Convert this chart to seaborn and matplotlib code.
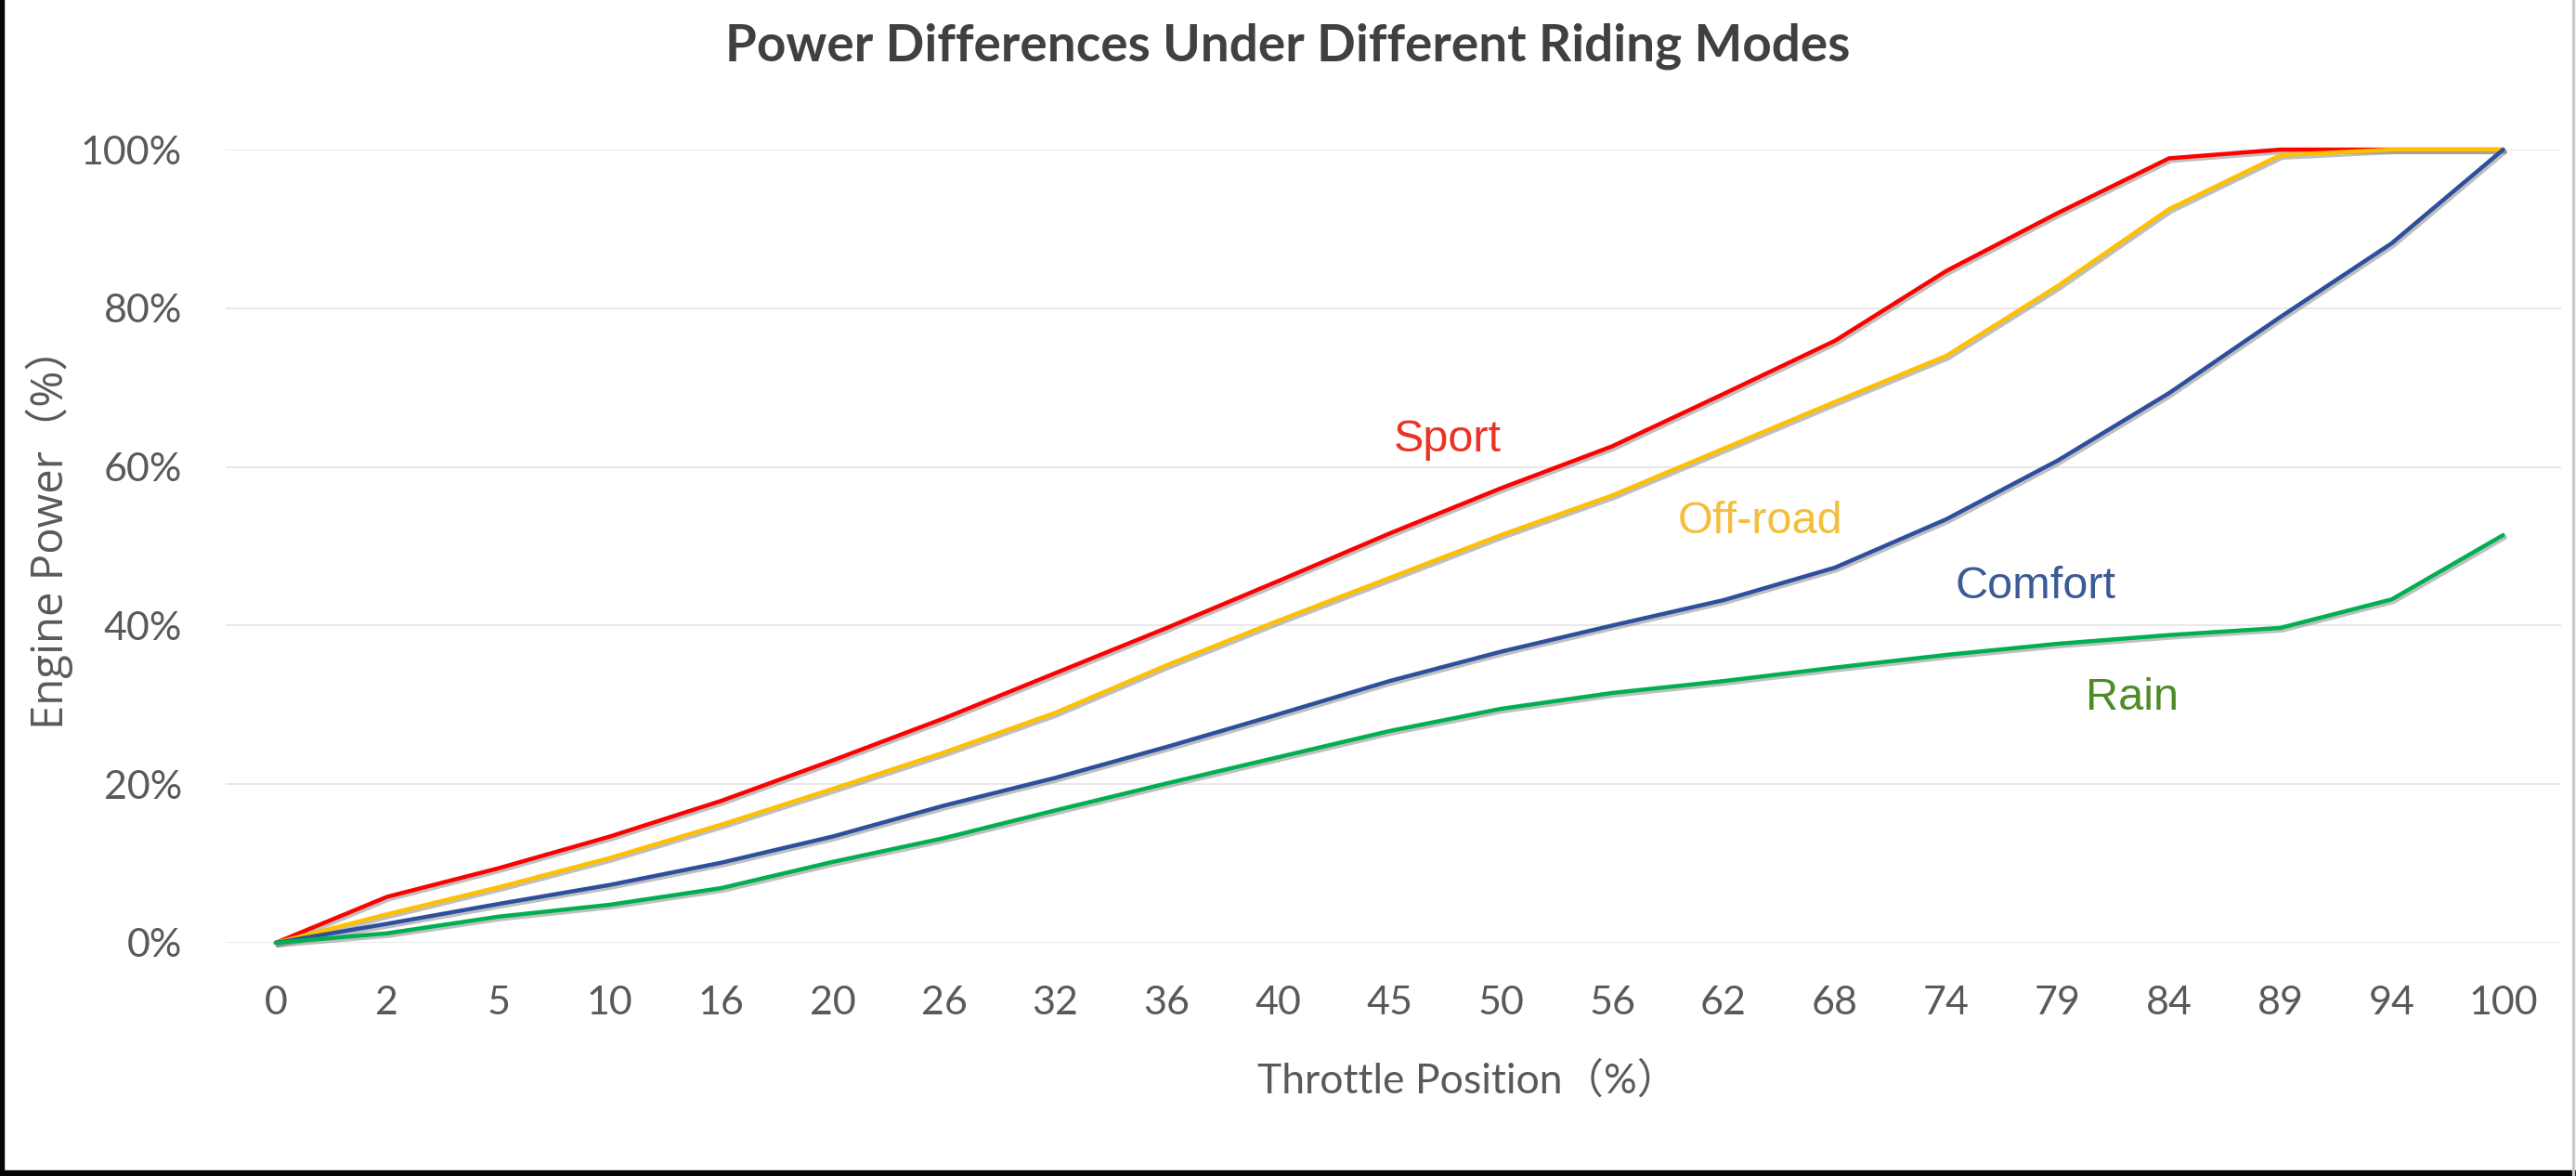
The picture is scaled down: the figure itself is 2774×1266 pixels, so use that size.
import numpy as np
import pandas as pd
import matplotlib
matplotlib.use("Agg")
import matplotlib.pyplot as plt
import matplotlib.patheffects as pe
from matplotlib.patches import Rectangle
from matplotlib.ticker import PercentFormatter
import seaborn as sns

# ---- data ----
THROTTLE = ["0", "2", "5", "10", "16", "20", "26", "32", "36", "40", "45",
            "50", "56", "62", "68", "74", "79", "84", "89", "94", "100"]
SPORT = [0, 5.8, 9.4, 13.4, 17.9, 23.0, 28.3, 34.0, 39.7, 45.6, 51.6,
         57.3, 62.6, 69.2, 75.9, 84.7, 92.0, 98.9, 100, 100, 100]
OFF_ROAD = [0, 3.6, 7.0, 10.7, 14.9, 19.4, 24.0, 29.0, 35.0, 40.6, 46.0,
            51.4, 56.4, 62.3, 68.2, 74.0, 82.8, 92.5, 99.3, 100, 100]
COMFORT = [0, 2.4, 4.9, 7.3, 10.1, 13.4, 17.3, 20.8, 24.7, 28.8, 33.0,
           36.7, 40.0, 43.2, 47.3, 53.4, 60.8, 69.3, 78.9, 88.2, 100]
RAIN = [0, 1.2, 3.3, 4.8, 6.9, 10.2, 13.2, 16.7, 20.1, 23.4, 26.7,
        29.5, 31.5, 33.0, 34.7, 36.3, 37.7, 38.8, 39.7, 43.3, 51.4]
MODES = ["Sport", "Off-road", "Comfort", "Rain"]

LINE_COLORS = {"Sport": "#FF0000", "Off-road": "#FFC000",
               "Comfort": "#2E4F9E", "Rain": "#00B050"}
LABEL_COLORS = {"Sport": "#EE3124", "Off-road": "#F4BE3A",
                "Comfort": "#3B5A96", "Rain": "#4E8B25"}

frame = pd.DataFrame({
    "Throttle": THROTTLE * 4,
    "Power": SPORT + OFF_ROAD + COMFORT + RAIN,
    "Mode": np.repeat(MODES, len(THROTTLE)),
})

sns.set_theme(style="white")
plt.rcParams["font.family"] = ["Lato", "Noto Sans CJK SC", "DejaVu Sans"]

fig = plt.figure(figsize=(27.74, 12.66), dpi=100)
ax = fig.add_axes([0.0876, 0.1983, 0.9066, 0.6745])

sns.lineplot(data=frame, x="Throttle", y="Power", hue="Mode",
             palette=LINE_COLORS, hue_order=MODES, sort=False,
             linewidth=3.2, legend=False, ax=ax)

for line in ax.lines:
    line.set_clip_on(False)
    line.set_solid_capstyle("round")
    line.set_solid_joinstyle("round")
    line.set_path_effects([
        pe.SimpleLineShadow(offset=(1.5, -2), shadow_color="#8C8C8C", alpha=0.55),
        pe.Normal(),
    ])

ax.set_xlim(-0.45, 20.52)
ax.set_ylim(0, 100)
ax.set_yticks([0, 20, 40, 60, 80, 100])
ax.yaxis.set_major_formatter(PercentFormatter(xmax=100, decimals=0))
ax.grid(axis="y", color="#E6E6E6", linewidth=1.3)
ax.grid(axis="x", visible=False)
ax.set_axisbelow(True)
for side in ["top", "right", "left", "bottom"]:
    ax.spines[side].set_visible(False)

ax.tick_params(axis="both", length=0, labelsize=31, labelcolor="#595959")
ax.tick_params(axis="y", pad=34)
ax.tick_params(axis="x", pad=33)

ax.set_xlabel("Throttle Position（%）", fontsize=32, color="#595959")
ax.xaxis.label.set_va("center")
ax.xaxis.set_label_coords(0.532, -0.1745)

ax.set_ylabel("Engine Power（%）", fontsize=34, color="#595959",
              family=["Open Sans", "Noto Sans CJK SC", "DejaVu Sans"])
ax.yaxis.label.set_va("center")
ax.yaxis.set_label_coords(-0.0755, 0.523)

fig.suptitle("Power Differences Under Different Riding Modes",
             x=0.5, y=0.9605, va="center", fontsize=39.5,
             fontweight="bold", color="#404040")

# series labels placed next to their curves
label_spots = {"Sport": (10.52, 62.0), "Off-road": (13.33, 51.6),
               "Comfort": (15.8, 43.4), "Rain": (16.67, 29.4)}
for mode, (lx, ly) in label_spots.items():
    ax.text(lx, ly, mode, ha="center", va="baseline", fontsize=35,
            color=LABEL_COLORS[mode],
            family=["Liberation Sans", "DejaVu Sans"])

# dark screenshot frame on the left/bottom edges, thin gray edge on the right
fig.patches.append(Rectangle((0, 0), 1, 6 / 1266, transform=fig.transFigure,
                             color="#050505", zorder=10))
fig.patches.append(Rectangle((0, 0), 4 / 2774, 1, transform=fig.transFigure,
                             color="#050505", zorder=10))
fig.patches.append(Rectangle((2770 / 2774, 0), 2 / 2774, 1,
                             transform=fig.transFigure, color="#C8C8C8", zorder=10))

fig.savefig("out.png", dpi=100, facecolor="white")
